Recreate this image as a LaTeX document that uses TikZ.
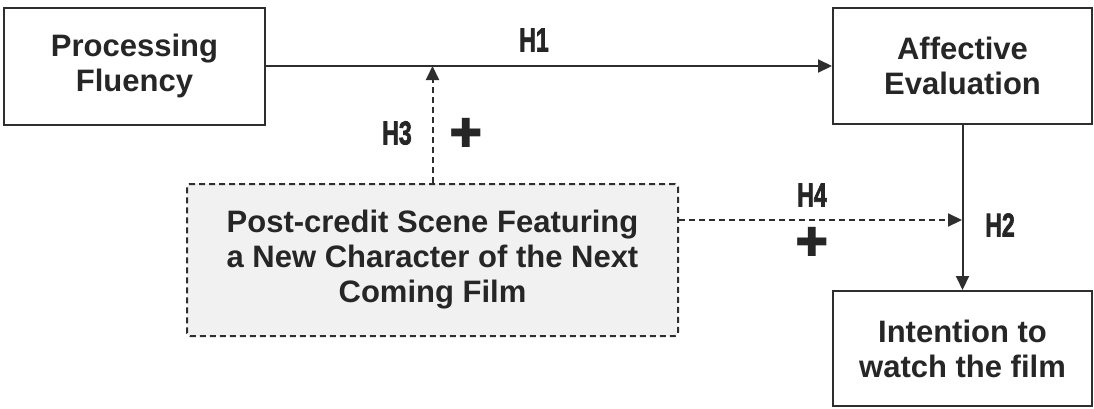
\documentclass[tikz,border=0pt]{standalone}
\usepackage{fontspec}
\setmainfont{Liberation Sans}
\newfontfamily\symfont{DejaVu Sans}
\newfontfamily\hypfont{Liberation Sans}[BoldFeatures={FakeBold=2.5}]
\usetikzlibrary{arrows.meta}
\definecolor{ink}{HTML}{262626}
\definecolor{edge}{HTML}{2E2E2E}
\definecolor{shade}{HTML}{F1F1F1}
\begin{document}
\begin{tikzpicture}[x=1pt,y=-1pt,
  box/.style={draw=edge, line width=2pt, fill=white, align=center, text=ink,
    font=\fontsize{31}{35}\selectfont\bfseries, inner sep=0pt},
  modbox/.style={box, fill=shade, dash pattern=on 6pt off 4pt, rounded corners=3pt},
  link/.style={draw=edge, line width=2pt, -{Triangle[length=14pt,width=13pt]}},
  dlink/.style={link, dash pattern=on 6pt off 4pt},
  hyp/.style={text=ink, font=\hypfont\fontsize{33}{33}\selectfont\bfseries},
  plus/.style={text=ink, font=\symfont\fontsize{40}{40}\selectfont}]
\useasboundingbox (0,0) rectangle (1094,408);

% constructs
\node[box, minimum width=261pt, minimum height=117pt] (pf) at (134.5,66) {Processing\\Fluency};
\node[box, minimum width=259pt, minimum height=116pt] (ae) at (962.5,66) {Affective\\Evaluation};
\node[box, minimum width=259pt, minimum height=115pt] (iw) at (962.5,348.5) {Intention to\\watch the film};
\node[modbox, minimum width=491pt, minimum height=152pt] (pc) at (432.5,260) {Post-credit Scene Featuring\\a New Character of the Next\\Coming Film};

% paths
\coordinate (h4end) at (962,220);
\draw[link] (pf.east) -- (ae.west);
\draw[link] (ae.south) -- (iw.north);
\draw[dlink] (pc.north) -- (pc.north |- pf.east);
\draw[dlink] (h4end -| pc.east) -- (h4end);

% hypothesis labels
\node[hyp] (h1) at (534,40) {\scalebox{0.7}[1]{H1}};
\node[hyp] (h2) at (1000,225) {\scalebox{0.7}[1]{H2}};
\node[hyp] (h3) at (397,133) {\scalebox{0.7}[1]{H3}};
\node[hyp] (h4) at (812,195) {\scalebox{0.7}[1]{H4}};
\node[plus] (p3) at (466,133) {✚};
\node[plus] (p4) at (812,242) {✚};
\end{tikzpicture}
\end{document}
